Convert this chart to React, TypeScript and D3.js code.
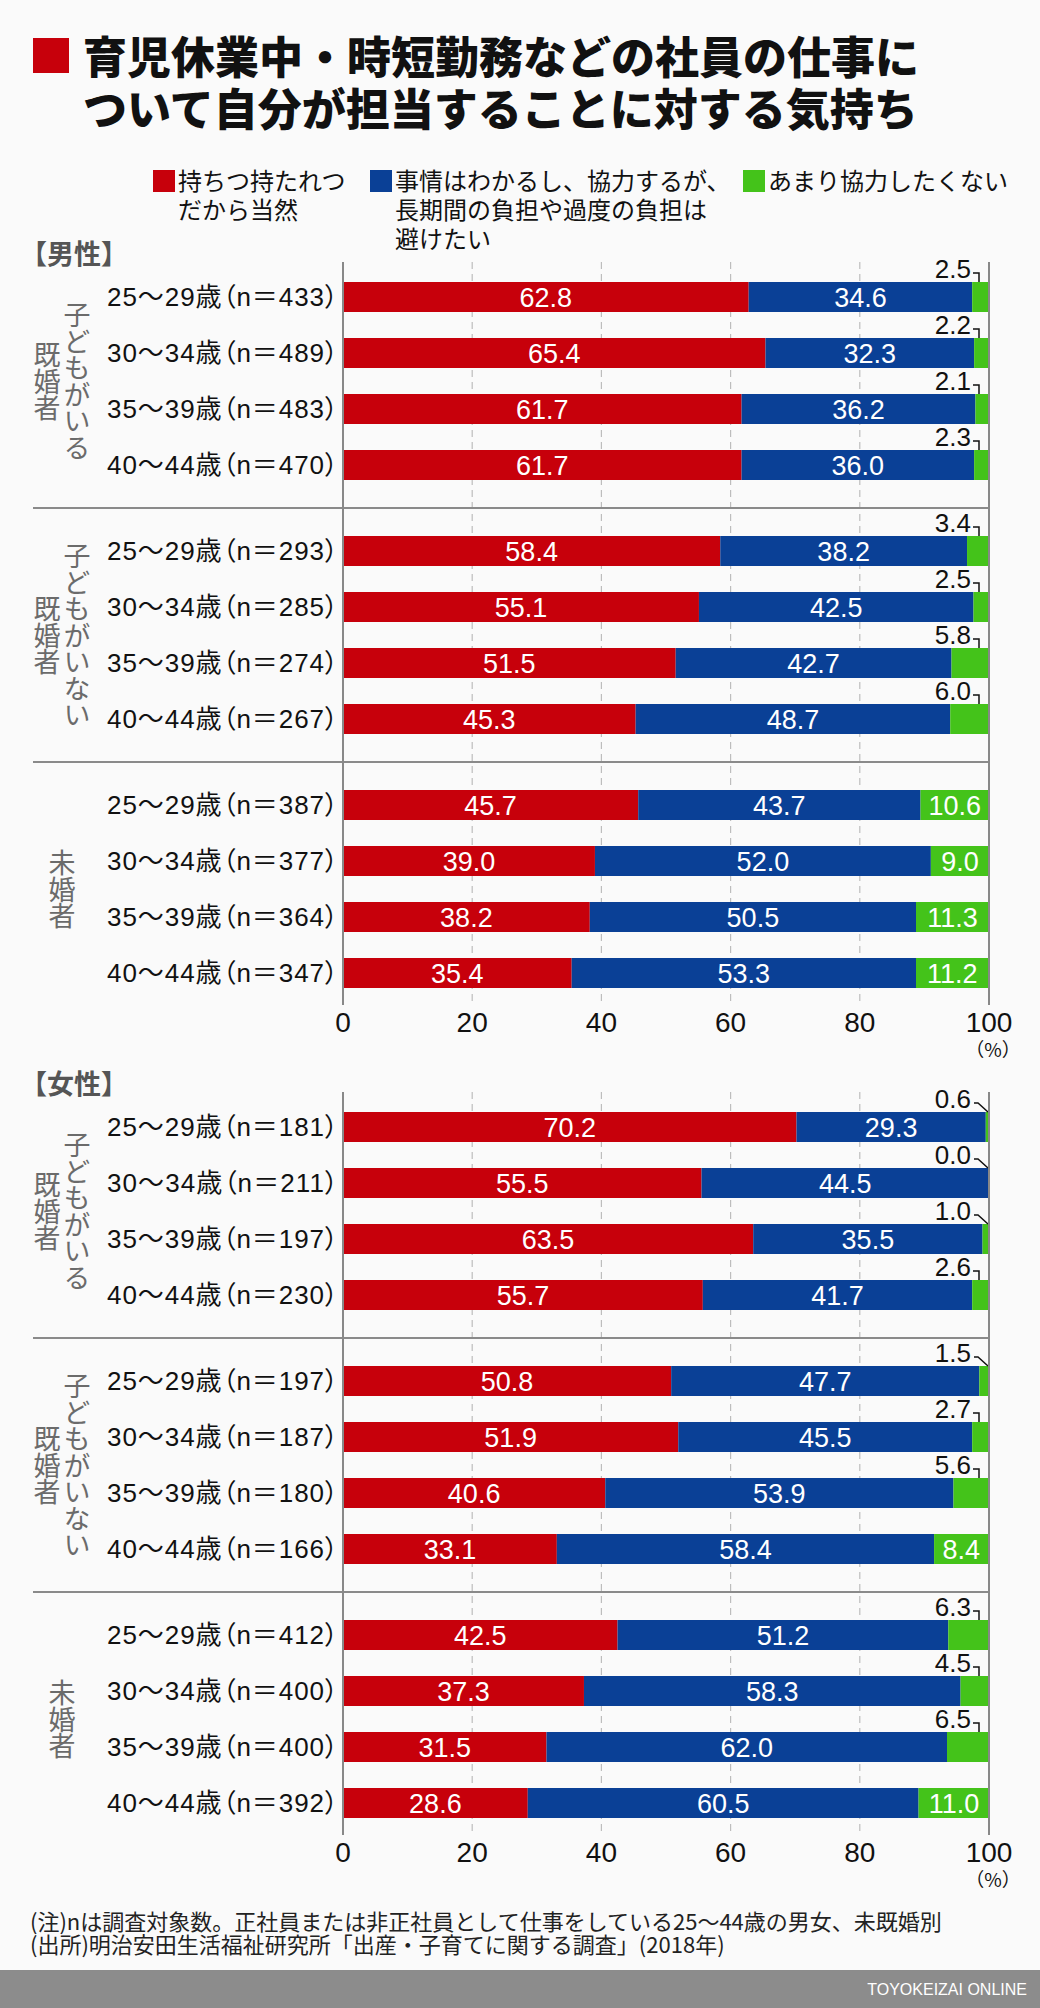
import { useEffect } from "react";
import * as d3 from "d3";

// categories
const ages = ["25〜29歳", "30〜34歳", "35〜39歳", "40〜44歳"];
const groupLabels = [["子どもがいる", "既婚者"], ["子どもがいない", "既婚者"], ["未婚者"]];
const seriesNames = [
  ["持ちつ持たれつ", "だから当然"],
  ["事情はわかるし、協力するが、", "長期間の負担や過度の負担は", "避けたい"],
  ["あまり協力したくない"],
];
const ticks = [0, 20, 40, 60, 80, 100];
const titleLines = ["育児休業中・時短勤務などの社員の仕事に", "ついて自分が担当することに対する気持ち"];
const noteLines = [
  "(注)nは調査対象数。正社員または非正社員として仕事をしている25〜44歳の男女、未既婚別",
  "(出所)明治安田生活福祉研究所「出産・子育てに関する調査」(2018年)",
];

// 男性 (rows: 3 groups x 4 ages)
const maleN = [433, 489, 483, 470, 293, 285, 274, 267, 387, 377, 364, 347];
const maleNatural = [62.8, 65.4, 61.7, 61.7, 58.4, 55.1, 51.5, 45.3, 45.7, 39.0, 38.2, 35.4];
const maleLimited = [34.6, 32.3, 36.2, 36.0, 38.2, 42.5, 42.7, 48.7, 43.7, 52.0, 50.5, 53.3];
const maleReluctant = [2.5, 2.2, 2.1, 2.3, 3.4, 2.5, 5.8, 6.0, 10.6, 9.0, 11.3, 11.2];

// 女性
const femaleN = [181, 211, 197, 230, 197, 187, 180, 166, 412, 400, 400, 392];
const femaleNatural = [70.2, 55.5, 63.5, 55.7, 50.8, 51.9, 40.6, 33.1, 42.5, 37.3, 31.5, 28.6];
const femaleLimited = [29.3, 44.5, 35.5, 41.7, 47.7, 45.5, 53.9, 58.4, 51.2, 58.3, 62.0, 60.5];
const femaleReluctant = [0.6, 0.0, 1.0, 2.6, 1.5, 2.7, 5.6, 8.4, 6.3, 4.5, 6.5, 11.0];

const COLORS = ["#c7000b", "#0a4096", "#44c31a"];
const JP = '"Noto Sans CJK JP", "Noto Sans", sans-serif';
const NUM = '"Liberation Sans", Arial, "Noto Sans CJK JP", sans-serif';

const x = d3.scaleLinear().domain([0, 100]).range([343, 989]);
const groupBand = d3.scaleBand<number>().domain(d3.range(3)).range([0, 762]);
const rowBand = d3
  .scaleBand<number>()
  .domain(d3.range(4))
  .range([0, 224])
  .paddingInner(26 / 56)
  .paddingOuter(13 / 56);

type Row = { a: number; b: number; c: number; n: number; age: string; g: number; r: number };

function Section({
  heading,
  top,
  n,
  natural,
  limited,
  reluctant,
}: {
  heading: string;
  top: number;
  n: number[];
  natural: number[];
  limited: number[];
  reluctant: number[];
}) {
  const rows: Row[] = n.map((v, i) => ({
    a: natural[i],
    b: limited[i],
    c: reluctant[i],
    n: v,
    age: ages[i % 4],
    g: Math.floor(i / 4),
    r: i % 4,
  }));
  const series = d3.stack<Row>().keys(["a", "b", "c"])(rows);
  const barTop = (d: Row) => top + (groupBand(d.g) ?? 0) + (rowBand(d.r) ?? 0);
  const bh = rowBand.bandwidth();
  const axisTop = top - 7;
  const axisBottom = top + 736;

  return (
    <g>
      <text x={20} y={top - 14} dy="0.35em" fontFamily={JP} fontSize={27} fontWeight={700} fill="#555">
        {heading}
      </text>

      {/* grid */}
      {ticks.slice(1, -1).map((t) => (
        <line key={t} x1={x(t)} x2={x(t)} y1={axisTop} y2={axisBottom} stroke="#bdbdbd" strokeWidth={1.2} strokeDasharray="7 5" />
      ))}

      {/* group separators */}
      {[0, 1].map((g) => (
        <line key={g} x1={33} x2={x(100)} y1={top + (groupBand(g) ?? 0) + 239} y2={top + (groupBand(g) ?? 0) + 239} stroke="#8a8a8a" strokeWidth={2} />
      ))}

      {/* group labels (vertical) */}
      {groupLabels.map((cols, g) => {
        const cy = top + (groupBand(g) ?? 0) + 112;
        const xs = cols.length === 2 ? [77, 47] : [62];
        return cols.map((label, ci) => (
          <text
            key={`${g}-${ci}`}
            x={xs[ci]}
            y={cy}
            textAnchor="middle"
            fontFamily={JP}
            fontSize={27}
            fill="#6b6b6b"
            letterSpacing={-0.5}
            style={{ writingMode: "vertical-rl" }}
          >
            {label}
          </text>
        ));
      })}

      {/* row labels */}
      {rows.map((d, i) => (
        <text
          key={i}
          x={107}
          y={barTop(d) + bh / 2}
          dy="0.36em"
          fontFamily={NUM}
          fontSize={26}
          fill="#111"
          textLength={231}
          lengthAdjust="spacing"
          style={{ fontFeatureSettings: '"palt"' }}
        >
          {`${d.age}（n＝${d.n}）`}
        </text>
      ))}

      {/* bars */}
      {series.map((s, si) => (
        <g key={si} fill={COLORS[si]}>
          {s.map((seg, i) => (
            <rect key={i} x={x(seg[0])} y={barTop(seg.data)} width={Math.max(0, x(seg[1]) - x(seg[0]))} height={bh} />
          ))}
        </g>
      ))}

      {/* value labels */}
      {series.map((s, si) =>
        s.map((seg, i) => {
          const v = seg[1] - seg[0];
          const val = [seg.data.a, seg.data.b, seg.data.c][si];
          const yt = barTop(seg.data);
          if (si < 2 || v >= 7.5) {
            return (
              <text key={`${si}-${i}`} x={(x(seg[0]) + x(seg[1])) / 2} y={yt + bh / 2} dy="0.36em" textAnchor="middle" fontFamily={NUM} fontSize={27} fill="#fff">
                {val.toFixed(1)}
              </text>
            );
          }
          // small share: label above the bar with a leader
          const tx = x(100) - 18;
          const ly = yt - 9;
          const path =
            val < 2
              ? `M${tx + 3},${ly} H${tx + 7} L${x(100) - 1},${yt}`
              : `M${tx + 2},${ly} H${tx + 8} V${yt}`;
          return (
            <g key={`${si}-${i}`}>
              <text x={tx} y={yt - 4} textAnchor="end" fontFamily={NUM} fontSize={26} fill="#111">
                {val.toFixed(1)}
              </text>
              <path d={path} fill="none" stroke="#111" strokeWidth={1.5} />
            </g>
          );
        })
      )}

      {/* axis lines */}
      <line x1={x(0)} x2={x(0)} y1={axisTop} y2={axisBottom} stroke="#888" strokeWidth={2} />
      <line x1={x(100)} x2={x(100)} y1={axisTop} y2={axisBottom} stroke="#888" strokeWidth={2} />

      {ticks.map((t) => (
        <text key={t} x={x(t)} y={top + 753} dy="0.36em" textAnchor="middle" fontFamily={NUM} fontSize={28} fill="#111">
          {t}
        </text>
      ))}
      <text x={x(100) + 4} y={top + 781} dy="0.36em" textAnchor="middle" fontFamily={JP} fontSize={19} fill="#111">
        （%）
      </text>
    </g>
  );
}

export default function App() {
  useEffect(() => {
    document.body.style.margin = "0";
  }, []);

  const legendX = [153, 370, 743];

  return (
    <svg width={1040} height={2008} style={{ display: "block" }}>
      <rect width={1040} height={2008} fill="#fafafa" />

      {/* title */}
      <rect x={33} y={38} width={36} height={35} fill={COLORS[0]} />
      <text fontFamily={JP} fontSize={44} fontWeight={900} fill="#111">
        {titleLines.map((l, k) => (
          <tspan key={k} x={83} y={58 + k * 52} dy="0.36em">
            {l}
          </tspan>
        ))}
      </text>

      {/* legend */}
      {seriesNames.map((lines, i) => (
        <g key={i}>
          <rect x={legendX[i]} y={170} width={22} height={22} fill={COLORS[i]} />
          <text fontFamily={JP} fontSize={24} fill="#111">
            {lines.map((l, k) => (
              <tspan key={k} x={legendX[i] + 25} y={181 + k * 29} dy="0.36em">
                {l}
              </tspan>
            ))}
          </text>
        </g>
      ))}

      <Section heading="【男性】" top={269} n={maleN} natural={maleNatural} limited={maleLimited} reluctant={maleReluctant} />
      <Section heading="【女性】" top={1099} n={femaleN} natural={femaleNatural} limited={femaleLimited} reluctant={femaleReluctant} />

      {/* notes */}
      <text fontFamily={JP} fontSize={22} fill="#222">
        {noteLines.map((l, k) => (
          <tspan key={k} x={30} y={1922 + k * 23} dy="0.36em">
            {l}
          </tspan>
        ))}
      </text>

      <rect x={0} y={1970} width={1040} height={38} fill="#8c8c8c" />
      <text x={1027} y={1989} dy="0.36em" textAnchor="end" fontFamily={NUM} fontSize={16} fill="#fff">
        TOYOKEIZAI ONLINE
      </text>
    </svg>
  );
}
